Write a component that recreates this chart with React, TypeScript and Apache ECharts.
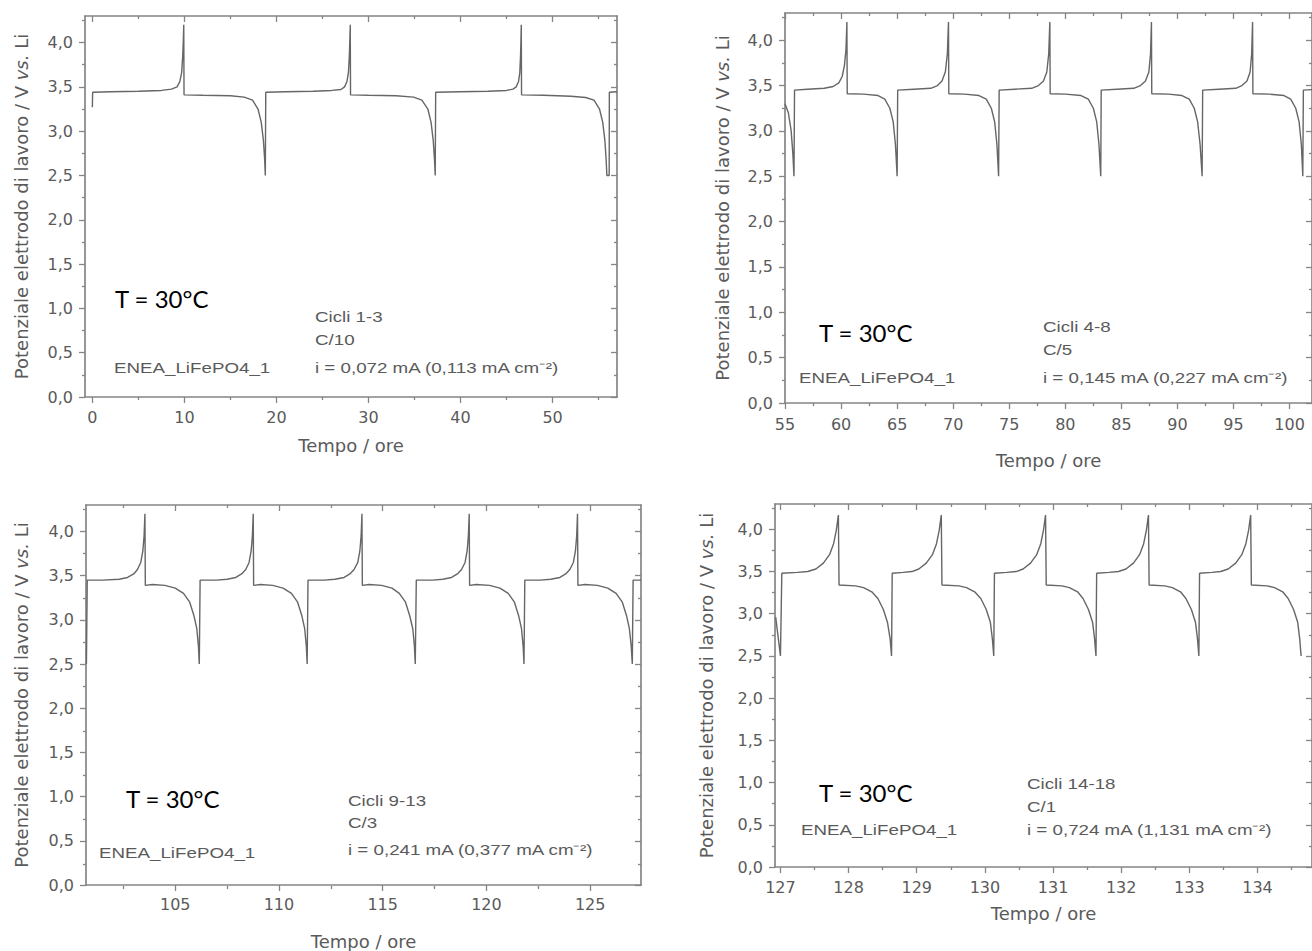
import React, { useEffect, useRef } from "react";
import * as echarts from "echarts";

// ---------- data ----------
const yTicks = [0, 0.5, 1, 1.5, 2, 2.5, 3, 3.5, 4];
const yMinorTicks = [0.25, 0.75, 1.25, 1.75, 2.25, 2.75, 3.25, 3.75, 4.25];

const c10Ticks = [0, 10, 20, 30, 40, 50];
const c10Minor = [5, 15, 25, 35, 45, 55];
const c5Ticks = [55, 60, 65, 70, 75, 80, 85, 90, 95, 100];
const c5Minor = [57.5, 62.5, 67.5, 72.5, 77.5, 82.5, 87.5, 92.5, 97.5];
const c3Ticks = [105, 110, 115, 120, 125];
const c3Minor = [102.5, 107.5, 112.5, 117.5, 122.5];
const c1Ticks = [127, 128, 129, 130, 131, 132, 133, 134];
const c1Minor = [127.5, 128.5, 129.5, 130.5, 131.5, 132.5, 133.5, 134.5];

// Cycles 1-3, C/10  [time h, potential V]
const c10Curve = [
  [0, 3.27], [0.03, 3.44], [2, 3.445], [5, 3.45], [7.5, 3.46], [8.6, 3.475], [9.2, 3.5], [9.5, 3.56], [9.7, 3.66], [9.82, 3.85], [9.89, 4.05], [9.93, 4.2], [9.96, 3.41],
  [12, 3.405], [15, 3.4], [16.5, 3.385], [17.4, 3.35], [18.0, 3.25], [18.35, 3.1], [18.58, 2.9], [18.72, 2.68], [18.79, 2.5],
  [18.84, 3.44], [21, 3.445], [24, 3.45], [26, 3.46], [27.0, 3.47], [27.4, 3.5], [27.66, 3.56], [27.82, 3.66], [27.92, 3.85], [27.98, 4.05], [28.02, 4.2], [28.05, 3.41],
  [30, 3.405], [33, 3.4], [34.9, 3.385], [35.8, 3.35], [36.45, 3.25], [36.8, 3.1], [37.03, 2.9], [37.17, 2.68], [37.25, 2.5],
  [37.3, 3.44], [40, 3.445], [43, 3.45], [45, 3.46], [45.7, 3.475], [46.05, 3.5], [46.3, 3.56], [46.44, 3.66], [46.52, 3.85], [46.57, 4.05], [46.6, 4.2], [46.63, 3.41],
  [49, 3.405], [52, 3.395], [53.6, 3.38], [54.5, 3.35], [55.1, 3.25], [55.45, 3.1], [55.68, 2.9], [55.82, 2.68], [55.9, 2.5],
  [56.15, 2.5], [56.17, 3.44], [57, 3.445],
];

// Cycles 4-8, C/5
const c5Curve = [
  [55, 3.3], [55.3, 3.2], [55.55, 3.0], [55.7, 2.75], [55.8, 2.5], [55.85, 3.45],
  [57, 3.46], [58.5, 3.47], [59.3, 3.49], [59.8, 3.53], [60.1, 3.6], [60.3, 3.72], [60.44, 3.9], [60.52, 4.2], [60.55, 3.41],
  [62, 3.405], [63.3, 3.39], [63.9, 3.35], [64.35, 3.25], [64.65, 3.1], [64.85, 2.85], [65.0, 2.5],
  [65.05, 3.45], [66.5, 3.46], [68, 3.47], [68.6, 3.5], [69.0, 3.55], [69.3, 3.65], [69.48, 3.85], [69.58, 4.2], [69.61, 3.41],
  [71, 3.405], [72.3, 3.39], [72.95, 3.35], [73.4, 3.25], [73.7, 3.1], [73.9, 2.85], [74.05, 2.5],
  [74.1, 3.45], [75.5, 3.46], [77, 3.47], [77.6, 3.5], [78.05, 3.55], [78.35, 3.65], [78.52, 3.85], [78.62, 4.2], [78.65, 3.41],
  [80, 3.405], [81.4, 3.39], [82.05, 3.35], [82.5, 3.25], [82.8, 3.1], [83.0, 2.85], [83.16, 2.5],
  [83.2, 3.45], [84.6, 3.46], [86.1, 3.47], [86.7, 3.5], [87.15, 3.55], [87.45, 3.65], [87.6, 3.85], [87.68, 4.2], [87.71, 3.41],
  [89.2, 3.405], [90.4, 3.39], [91.05, 3.35], [91.5, 3.25], [91.8, 3.1], [92.02, 2.85], [92.2, 2.5],
  [92.25, 3.45], [93.7, 3.46], [95.2, 3.47], [95.75, 3.5], [96.2, 3.55], [96.48, 3.65], [96.62, 3.85], [96.7, 4.2], [96.73, 3.41],
  [98.2, 3.405], [99.5, 3.39], [100.1, 3.35], [100.55, 3.25], [100.85, 3.1], [101.05, 2.85], [101.18, 2.5],
  [101.23, 3.45], [102, 3.455],
];

// Cycles 9-13, C/3
const c3Curve = [
  [100.72, 2.5], [100.76, 3.45],
  [101.5, 3.45], [102.3, 3.46], [102.7, 3.48], [103.0, 3.52], [103.18, 3.57], [103.34, 3.65], [103.44, 3.78], [103.5, 3.95], [103.54, 4.2], [103.56, 3.39],
  [103.9, 3.4], [104.5, 3.39], [105.0, 3.36], [105.4, 3.3], [105.7, 3.2], [105.9, 3.05], [106.04, 2.9], [106.12, 2.7], [106.16, 2.5],
  [106.2, 3.45], [107, 3.45], [107.5, 3.46], [107.92, 3.48], [108.2, 3.52], [108.4, 3.57], [108.56, 3.65], [108.66, 3.78], [108.72, 3.95], [108.76, 4.2], [108.78, 3.39],
  [109.1, 3.4], [109.7, 3.39], [110.2, 3.36], [110.6, 3.3], [110.9, 3.2], [111.1, 3.05], [111.24, 2.9], [111.32, 2.7], [111.36, 2.5],
  [111.4, 3.45], [112.2, 3.45], [112.7, 3.46], [113.14, 3.48], [113.42, 3.52], [113.62, 3.57], [113.8, 3.65], [113.9, 3.78], [113.96, 3.95], [114.0, 4.2], [114.02, 3.39],
  [114.35, 3.4], [114.95, 3.39], [115.45, 3.36], [115.8, 3.3], [116.1, 3.2], [116.3, 3.05], [116.45, 2.9], [116.53, 2.7], [116.57, 2.5],
  [116.62, 3.45], [117.4, 3.45], [117.9, 3.46], [118.32, 3.48], [118.6, 3.52], [118.8, 3.57], [118.97, 3.65], [119.07, 3.78], [119.13, 3.95], [119.17, 4.2], [119.19, 3.39],
  [119.5, 3.4], [120.15, 3.39], [120.65, 3.36], [121.05, 3.3], [121.35, 3.2], [121.55, 3.05], [121.69, 2.9], [121.77, 2.7], [121.81, 2.5],
  [121.85, 3.45], [122.6, 3.45], [123.1, 3.46], [123.54, 3.48], [123.82, 3.52], [124.02, 3.57], [124.19, 3.65], [124.29, 3.78], [124.35, 3.95], [124.39, 4.2], [124.41, 3.39],
  [124.75, 3.4], [125.35, 3.39], [125.85, 3.36], [126.25, 3.3], [126.55, 3.2], [126.75, 3.05], [126.89, 2.9], [126.98, 2.7], [127.03, 2.5],
  [127.07, 3.45], [127.45, 3.45],
];

// Cycles 14-18, C/1
const c1Curve = [
  [126.93, 2.96], [126.97, 2.7], [127.0, 2.5], [127.02, 3.48],
  [127.25, 3.49], [127.4, 3.5], [127.52, 3.53], [127.63, 3.6], [127.72, 3.7], [127.78, 3.83], [127.82, 3.99], [127.85, 4.17], [127.86, 3.34],
  [128.1, 3.33], [128.22, 3.31], [128.34, 3.26], [128.43, 3.18], [128.51, 3.05], [128.57, 2.9], [128.61, 2.7], [128.63, 2.5],
  [128.64, 3.48], [128.8, 3.49], [128.93, 3.5], [129.03, 3.53], [129.14, 3.6], [129.23, 3.7], [129.29, 3.83], [129.33, 3.99], [129.36, 4.17], [129.37, 3.34],
  [129.62, 3.33], [129.73, 3.31], [129.85, 3.26], [129.94, 3.18], [130.02, 3.05], [130.08, 2.9], [130.11, 2.7], [130.13, 2.5],
  [130.14, 3.48], [130.32, 3.49], [130.46, 3.5], [130.56, 3.53], [130.67, 3.6], [130.76, 3.7], [130.82, 3.83], [130.86, 3.99], [130.89, 4.17], [130.9, 3.34],
  [131.13, 3.33], [131.24, 3.31], [131.36, 3.26], [131.44, 3.18], [131.52, 3.05], [131.58, 2.9], [131.61, 2.7], [131.63, 2.5],
  [131.64, 3.48], [131.82, 3.49], [131.96, 3.5], [132.07, 3.53], [132.18, 3.6], [132.27, 3.7], [132.33, 3.83], [132.37, 3.99], [132.4, 4.17], [132.41, 3.34],
  [132.64, 3.33], [132.75, 3.31], [132.87, 3.26], [132.95, 3.18], [133.03, 3.05], [133.09, 2.9], [133.12, 2.7], [133.14, 2.5],
  [133.15, 3.48], [133.33, 3.49], [133.46, 3.5], [133.57, 3.53], [133.68, 3.6], [133.77, 3.7], [133.83, 3.83], [133.87, 3.99], [133.9, 4.17], [133.91, 3.34],
  [134.14, 3.33], [134.25, 3.31], [134.37, 3.26], [134.45, 3.18], [134.53, 3.05], [134.59, 2.9], [134.62, 2.7], [134.64, 2.5],
];

const cycleLabels = ["Cicli 1-3", "Cicli 4-8", "Cicli 9-13", "Cicli 14-18"];
const rateLabels = ["C/10", "C/5", "C/3", "C/1"];
const currentLabels = [
  "i = 0,072 mA (0,113 mA cm\u207B\u00B2)",
  "i = 0,145 mA (0,227 mA cm\u207B\u00B2)",
  "i = 0,241 mA (0,377 mA cm\u207B\u00B2)",
  "i = 0,724 mA (1,131 mA cm\u207B\u00B2)",
];
const cellLabel = "ENEA_LiFePO4_1";
const tempLabel = "T = 30°C";
const xTitle = "Tempo / ore";

// ---------- layout ----------
const panels = [
  { curve: c10Curve, ticks: c10Ticks, minor: c10Minor, xMin: -0.8, xMax: 57, left: 85, top: 16, width: 532, height: 381, xLabelMargin: 12, xNameGap: 39, yNameGap: 55,
    temp: [115, 298], cell: [114, 368], info: [315, 317, 340, 368] },
  { curve: c5Curve, ticks: c5Ticks, minor: c5Minor, xMin: 55, xMax: 102, left: 785, top: 13, width: 529, height: 390, xLabelMargin: 13, xNameGap: 48, yNameGap: 54,
    temp: [819, 332], cell: [799, 378], info: [1043, 327, 350, 378] },
  { curve: c3Curve, ticks: c3Ticks, minor: c3Minor, xMin: 100.7, xMax: 127.45, left: 86, top: 505, width: 555, height: 381, xLabelMargin: 11, xNameGap: 47, yNameGap: 56,
    temp: [126, 798], cell: [99, 853], info: [348, 801, 823, 850] },
  { curve: c1Curve, ticks: c1Ticks, minor: c1Minor, xMin: 126.92, xMax: 134.8, left: 775, top: 504, width: 541, height: 363, xLabelMargin: 12, xNameGap: 37, yNameGap: 60,
    temp: [819, 792], cell: [801, 830], info: [1027, 784, 807, 830] },
];

const AXIS_COLOR = "#858585";
const TEXT_COLOR = "#5a5a5a";
const LINE_COLOR = "#666666";
const FONT = "DejaVu Sans";
const NOTE_FONT = "Liberation Sans";

function buildOption() {
  const grid: any[] = [];
  const xAxis: any[] = [];
  const yAxis: any[] = [];
  const series: any[] = [];
  const graphic: any[] = [];

  panels.forEach((p, i) => {
    const rect = { left: p.left, top: p.top, width: p.width, height: p.height, containLabel: false };
    grid.push({ ...rect }); // main grid 2i
    grid.push({ ...rect }); // minor-tick grid 2i+1
    const lineStyle = { color: AXIS_COLOR, width: 1.7 };
    const tickStyle = { color: AXIS_COLOR, width: 1.3 };

    const xBase = { type: "value", min: p.xMin, max: p.xMax, splitLine: { show: false }, minorTick: { show: false } };
    const yBase = { type: "value", min: 0, max: 4.3, splitLine: { show: false }, minorTick: { show: false } };

    xAxis.push({
      ...xBase, gridIndex: 2 * i, position: "bottom",
      axisLine: { show: true, onZero: false, lineStyle },
      axisTick: { show: true, inside: false, length: 6, customValues: p.ticks, lineStyle: tickStyle },
      axisLabel: { show: true, customValues: p.ticks, margin: p.xLabelMargin, fontSize: 16, fontFamily: FONT, color: TEXT_COLOR, formatter: (v: number) => String(v) },
      name: xTitle, nameLocation: "middle", nameGap: p.xNameGap,
      nameTextStyle: { fontSize: 18, fontFamily: FONT, color: TEXT_COLOR },
    });
    xAxis.push({
      ...xBase, gridIndex: 2 * i, position: "top",
      axisLine: { show: true, onZero: false, lineStyle },
      axisTick: { show: true, inside: true, length: 6, customValues: p.ticks, lineStyle: tickStyle },
      axisLabel: { show: false },
    });
    xAxis.push({
      ...xBase, gridIndex: 2 * i + 1, position: "bottom",
      axisLine: { show: false, onZero: false },
      axisTick: { show: true, inside: false, length: 3, customValues: p.minor, lineStyle: tickStyle },
      axisLabel: { show: false },
    });
    xAxis.push({
      ...xBase, gridIndex: 2 * i + 1, position: "top",
      axisLine: { show: false, onZero: false },
      axisTick: { show: true, inside: true, length: 3, customValues: p.minor, lineStyle: tickStyle },
      axisLabel: { show: false },
    });

    yAxis.push({
      ...yBase, gridIndex: 2 * i, position: "left",
      axisLine: { show: true, onZero: false, lineStyle },
      axisTick: { show: true, inside: false, length: 6, customValues: yTicks, lineStyle: tickStyle },
      axisLabel: { show: true, customValues: yTicks, margin: 12, fontSize: 16, fontFamily: FONT, color: TEXT_COLOR,
        formatter: (v: number) => v.toFixed(1).replace(".", ",") },
      name: "Potenziale elettrodo di lavoro / V {it|vs.} Li", nameLocation: "middle", nameGap: p.yNameGap, nameRotate: 90,
      nameTextStyle: { fontSize: 18, fontFamily: FONT, color: TEXT_COLOR,
        rich: { it: { fontSize: 18, fontFamily: FONT, color: TEXT_COLOR, fontStyle: "italic" } } },
    });
    yAxis.push({
      ...yBase, gridIndex: 2 * i, position: "right",
      axisLine: { show: true, onZero: false, lineStyle },
      axisTick: { show: true, inside: true, length: 6, customValues: yTicks, lineStyle: tickStyle },
      axisLabel: { show: false },
    });
    yAxis.push({
      ...yBase, gridIndex: 2 * i + 1, position: "left",
      axisLine: { show: false, onZero: false },
      axisTick: { show: true, inside: false, length: 3, customValues: yMinorTicks, lineStyle: tickStyle },
      axisLabel: { show: false },
    });
    yAxis.push({
      ...yBase, gridIndex: 2 * i + 1, position: "right",
      axisLine: { show: false, onZero: false },
      axisTick: { show: true, inside: true, length: 3, customValues: yMinorTicks, lineStyle: tickStyle },
      axisLabel: { show: false },
    });

    series.push({
      type: "line",
      xAxisIndex: 4 * i,
      yAxisIndex: 4 * i,
      data: p.curve,
      showSymbol: false,
      symbol: "none",
      clip: true,
      lineStyle: { color: LINE_COLOR, width: 1.4 },
      silent: true,
    });

    const small = { fill: TEXT_COLOR, font: `15px "${NOTE_FONT}"`, textVerticalAlign: "middle", verticalAlign: "middle" };
    const sx = 1.25;
    graphic.push({ type: "text", x: p.temp[0], y: p.temp[1],
      style: { text: tempLabel, fill: "#000", font: `24px "Lato"`, textVerticalAlign: "middle", verticalAlign: "middle" } });
    graphic.push({ type: "text", x: p.cell[0], y: p.cell[1], scaleX: sx, style: { ...small, text: cellLabel } });
    graphic.push({ type: "text", x: p.info[0], y: p.info[1], scaleX: sx, style: { ...small, text: cycleLabels[i] } });
    graphic.push({ type: "text", x: p.info[0], y: p.info[2], scaleX: sx, style: { ...small, text: rateLabels[i] } });
    graphic.push({ type: "text", x: p.info[0], y: p.info[3], scaleX: sx, style: { ...small, text: currentLabels[i] } });
  });

  return {
    animation: false,
    backgroundColor: "#ffffff",
    grid, xAxis, yAxis, series, graphic,
  };
}

export default function App() {
  const ref = useRef<HTMLDivElement>(null);
  useEffect(() => {
    if (!ref.current) return;
    const chart = echarts.init(ref.current, undefined, { renderer: "svg" });
    chart.setOption(buildOption() as any);
    return () => chart.dispose();
  }, []);
  return (
    <div
      ref={ref}
      style={{ position: "fixed", left: 0, top: 0, width: 1312, height: 951, background: "#fff" }}
    />
  );
}
